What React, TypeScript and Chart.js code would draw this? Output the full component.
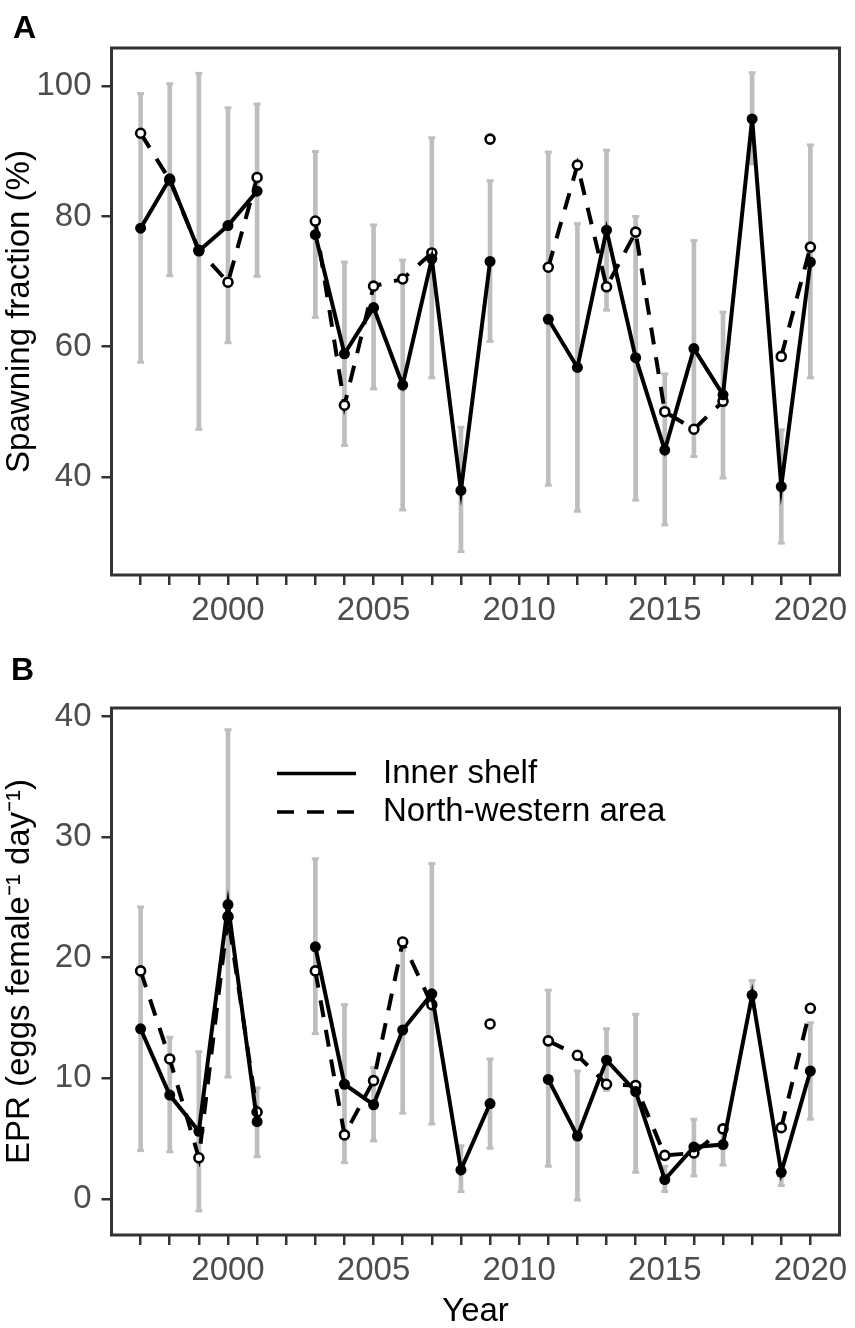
import React, { useEffect, useRef } from 'react';
import { Chart, registerables } from 'chart.js';

Chart.register(...registerables);

const FONT = '"Liberation Sans", Arial, sans-serif';
Chart.defaults.font.family = FONT;

const years = [1997, 1998, 1999, 2000, 2001, 2002, 2003, 2004, 2005, 2006, 2007, 2008,
  2009, 2010, 2011, 2012, 2013, 2014, 2015, 2016, 2017, 2018, 2019, 2020];

const seriesLabels = ['Inner shelf', 'North-western area'];

// panel A: spawning fraction (%)
const spawnInner = [78.2, 85.8, 74.7, 78.6, 83.9, null, 77.2, 58.9, 66.0, 54.1, 73.5, 37.9,
  73.1, null, 64.2, 56.8, 77.9, 58.3, 44.1, 59.7, 52.6, 95.0, 38.5, 73.0];
const spawnNW = [92.8, 85.6, 74.8, 69.9, 86.0, null, 79.3, 51.0, 69.3, 70.4, 74.4, null,
  91.9, null, 72.2, 87.9, 69.2, 77.6, 50.0, 47.3, 51.6, null, 58.5, 75.3];
const spawnLow = [57.6, 70.9, 47.3, 60.6, 70.8, null, 64.5, 44.8, 53.5, 34.9, 55.2, 28.5,
  60.8, null, 38.7, 34.7, 65.6, 36.4, 32.6, 43.1, 39.8, 88.1, 29.8, 55.2];
const spawnHigh = [98.9, 100.4, 102.0, 96.7, 97.3, null, 90.0, 73.0, 78.7, 73.3, 92.1, 47.6,
  85.5, null, 89.9, 78.9, 90.2, 80.0, 55.8, 76.3, 65.3, 102.1, 47.2, 91.0];
const spawnTicks = [40, 60, 80, 100];

// panel B: EPR (eggs female-1 day-1)
const eprInner = [14.1, 8.6, 5.6, 24.4, 6.4, null, 20.9, 9.5, 7.8, 14.0, 17.0, 2.4,
  7.9, null, 9.9, 5.2, 11.5, 8.9, 1.6, 4.3, 4.5, 16.9, 2.2, 10.6];
const eprNW = [18.9, 11.6, 3.4, 23.4, 7.2, null, 18.9, 5.3, 9.8, 21.3, 16.1, null,
  14.5, null, 13.1, 11.9, 9.5, 9.4, 3.6, 3.8, 5.8, null, 5.9, 15.8];
const eprLow = [4.0, 3.9, -1.0, 10.1, 3.5, null, 13.7, 3.0, 4.8, 7.1, 6.2, 0.6,
  4.2, null, 2.7, -0.1, 9.0, 2.2, 0.6, 1.9, 2.8, 15.8, 1.1, 6.6];
const eprHigh = [24.2, 13.4, 12.2, 38.9, 9.2, null, 28.2, 16.1, 10.9, 20.6, 27.8, 4.4,
  11.6, null, 17.3, 10.6, 14.1, 15.3, 2.7, 6.6, 5.8, 18.1, 2.8, 14.6];
const eprTicks = [0, 10, 20, 30, 40];

const DARK = '#333333';
const TICK_GREY = '#4d4d4d';
const BAR_GREY = '#bebebe';
const FS = 33;

// panel border, drawn over the data like ggplot's panel.border
const borderPlugin = {
  id: 'panelBorder',
  afterDatasetsDraw(chart: any) {
    const { ctx, chartArea } = chart;
    ctx.save();
    ctx.strokeStyle = DARK;
    ctx.lineWidth = 3;
    ctx.strokeRect(chartArea.left, chartArea.top, chartArea.right - chartArea.left, chartArea.bottom - chartArea.top);
    ctx.restore();
  },
};

// small caps on the error bars
const capsPlugin = {
  id: 'errorCaps',
  afterDatasetDraw(chart: any, args: any) {
    if (args.meta.type !== 'bar') return;
    const ctx = chart.ctx;
    ctx.save();
    ctx.strokeStyle = BAR_GREY;
    ctx.lineWidth = 3;
    args.meta.data.forEach((bar: any) => {
      [bar.y, bar.base].forEach((py: number) => {
        ctx.beginPath();
        ctx.moveTo(bar.x - 3.5, py);
        ctx.lineTo(bar.x + 3.5, py);
        ctx.stroke();
      });
    });
    ctx.restore();
  },
};

// legend inside panel B
const legendPlugin = {
  id: 'insideLegend',
  afterDatasetsDraw(chart: any, _args: any, opts: any) {
    if (!opts || !opts.show) return;
    const ctx = chart.ctx;
    const lines = chart.data.datasets.filter((d: any) => d.type === 'line');
    ctx.save();
    lines.forEach((d: any, i: number) => {
      const y = opts.y + i * opts.gap;
      ctx.strokeStyle = '#000';
      ctx.lineWidth = 3.5;
      ctx.setLineDash(d.borderDash || []);
      ctx.beginPath();
      ctx.moveTo(opts.x, y);
      ctx.lineTo(opts.x + opts.len, y);
      ctx.stroke();
      ctx.setLineDash([]);
      ctx.fillStyle = '#000';
      ctx.font = `${FS}px ${FONT}`;
      ctx.textBaseline = 'middle';
      ctx.textAlign = 'left';
      ctx.fillText(d.label, opts.textX, y);
    });
    ctx.restore();
  },
};

interface PanelProps {
  inner: (number | null)[];
  nw: (number | null)[];
  low: (number | null)[];
  high: (number | null)[];
  yTicks: number[];
  yMin: number;
  yMax: number;
  yTitle: string;
  height: number;
  padTop: number;
  xAxisHeight: number;
  xTitle?: string;
  showLegend?: boolean;
}

const Panel: React.FC<PanelProps> = (p) => {
  const canvasRef = useRef<HTMLCanvasElement | null>(null);

  useEffect(() => {
    if (!canvasRef.current) return;
    const ctx = canvasRef.current.getContext('2d');
    if (!ctx) return;

    const bars = years
      .map((yr, i) => (p.low[i] == null ? null : { x: yr, y: [p.low[i], p.high[i]] }))
      .filter((d) => d !== null);

    const chart = new Chart(ctx, {
      type: 'line',
      data: {
        datasets: [
          {
            type: 'line',
            label: seriesLabels[0],
            data: years.map((yr, i) => ({ x: yr, y: p.inner[i] })),
            borderColor: '#000',
            borderWidth: 4,
            pointRadius: 5.5,
            pointBackgroundColor: '#000',
            pointBorderColor: '#000',
            pointBorderWidth: 0,
            spanGaps: false,
            order: 1,
          },
          {
            type: 'line',
            label: seriesLabels[1],
            data: years.map((yr, i) => ({ x: yr, y: p.nw[i] })),
            borderColor: '#000',
            borderWidth: 4,
            borderDash: [17, 13],
            pointRadius: 4.5,
            pointBackgroundColor: '#fff',
            pointBorderColor: '#000',
            pointBorderWidth: 2.6,
            spanGaps: false,
            order: 2,
          },
          {
            type: 'bar',
            label: 'sd',
            data: bars as any,
            backgroundColor: BAR_GREY,
            borderWidth: 0,
            barThickness: 4,
            order: 3,
          },
        ] as any,
      },
      options: {
        responsive: false,
        animation: false,
        layout: { padding: { top: p.padTop, right: 15.5, left: 0, bottom: 0 } },
        plugins: {
          legend: { display: false },
          tooltip: { enabled: false },
          insideLegend: { show: !!p.showLegend, x: 277, len: 79, textX: 383, y: 133.5, gap: 38.5 },
        } as any,
        scales: {
          x: {
            type: 'linear',
            min: 1996,
            max: 2021,
            offset: false,
            afterBuildTicks: (s: any) => {
              s.ticks = years.map((v) => ({ value: v }));
            },
            afterFit: (s: any) => {
              s.height = p.xAxisHeight;
            },
            ticks: {
              autoSkip: false,
              maxRotation: 0,
              padding: 6,
              color: TICK_GREY,
              font: { size: FS },
              callback: (v: any) => (Number(v) % 5 === 0 ? String(v) : ''),
            },
            grid: { drawOnChartArea: false, drawTicks: true, tickLength: 10, color: DARK, lineWidth: 2.5, offset: false },
            border: { display: false },
            title: {
              display: !!p.xTitle,
              text: p.xTitle || '',
              color: '#000',
              font: { size: FS, lineHeight: 1 },
              padding: 0,
            },
          },
          y: {
            type: 'linear',
            min: p.yMin,
            max: p.yMax,
            afterBuildTicks: (s: any) => {
              s.ticks = p.yTicks.map((v) => ({ value: v }));
            },
            afterFit: (s: any) => {
              s.width = 111.5;
            },
            ticks: {
              padding: 10,
              color: TICK_GREY,
              font: { size: FS },
              callback: (v: any) => String(v),
            },
            grid: { drawOnChartArea: false, drawTicks: true, tickLength: 10, color: DARK, lineWidth: 2.5 },
            border: { display: false },
            title: {
              display: true,
              text: p.yTitle,
              color: '#000',
              font: { size: FS, lineHeight: 1 },
              padding: { top: 3, bottom: 0 },
            },
          },
        },
      } as any,
      plugins: [capsPlugin, borderPlugin, legendPlugin],
    });

    return () => {
      chart.destroy();
    };
  }, []);

  return <canvas ref={canvasRef} width={855} height={p.height} style={{ display: 'block' }} />;
};

const labelStyle: React.CSSProperties = {
  position: 'absolute',
  fontWeight: 'bold',
  fontSize: 32,
  lineHeight: '32px',
  color: '#000',
  zIndex: 2,
};

export default function App() {
  useEffect(() => {
    document.body.style.margin = '0';
  }, []);

  return (
    <div style={{ position: 'relative', width: 855, height: 1328, background: '#fff', fontFamily: FONT }}>
      <div style={{ position: 'absolute', left: 0, top: 0 }}>
        <Panel
          inner={spawnInner}
          nw={spawnNW}
          low={spawnLow}
          high={spawnHigh}
          yTicks={spawnTicks}
          yMin={24.9}
          yMax={105.9}
          yTitle="Spawning fraction (%)"
          height={640}
          padTop={48}
          xAxisHeight={65}
        />
      </div>
      <div style={{ position: 'absolute', left: 0, top: 640 }}>
        <Panel
          inner={eprInner}
          nw={eprNW}
          low={eprLow}
          high={eprHigh}
          yTicks={eprTicks}
          yMin={-3.0}
          yMax={40.7}
          yTitle="EPR (eggs female⁻¹ day⁻¹)"
          height={688}
          padTop={68}
          xAxisHeight={93}
          xTitle="Year"
          showLegend
        />
      </div>
      <div style={{ ...labelStyle, left: 13, top: 11 }}>A</div>
      <div style={{ ...labelStyle, left: 11, top: 653 }}>B</div>
    </div>
  );
}
